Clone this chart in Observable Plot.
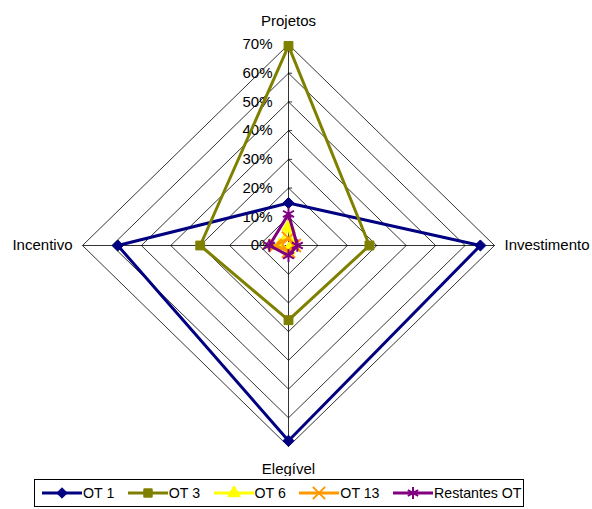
<!DOCTYPE html>
<html>
<head>
<meta charset="utf-8">
<script src="https://cdn.jsdelivr.net/npm/d3@7"></script>
<script src="https://cdn.jsdelivr.net/npm/@observablehq/plot@0.6"></script>
<style>
  body { margin: 0; background: #fff; font-family: "Liberation Sans", Arial, sans-serif; }
  #chart svg { display: block; }
  .legend { position: relative; margin-left: 34px; margin-top: 3px; width: 490px; height: 28px;
            border: 1px solid #000; display: flex; align-items: center; padding-left: 7px; box-sizing: border-box;
            font-size: 14.2px; color: #000; white-space: nowrap; }
  .legend .item { display: flex; align-items: center; margin-right: 13.5px; flex-shrink: 0; }
  .legend svg { display: block; margin-right: 1px; flex-shrink: 0; }
</style>
</head>
<body>
<div id="chart"></div>
<script>
// Radar axes, clockwise from the top
const categories = ["Projetos", "Investimento", "Elegível", "Incentivo"];

// Value axis: grid levels and their labels
const levels = [0, 0.1, 0.2, 0.3, 0.4, 0.5, 0.6, 0.7];
const tickLabels = ["0%", "10%", "20%", "30%", "40%", "50%", "60%", "70%"];

// Series (share per axis, in the order of categories)
const seriesNames = ["OT 1", "OT 3", "OT 6", "OT 13", "Restantes OT"];
const ot1 = [0.148, 0.652, 0.68, 0.58];
const ot3 = [0.695, 0.275, 0.26, 0.30];
const ot6 = [0.065, 0.015, 0.015, 0.03];
const ot13 = [0.025, 0.02, 0.02, 0.045];
const restantes = [0.11, 0.03, 0.035, 0.065];
const seriesValues = [ot1, ot3, ot6, ot13, restantes];

const colors = ["#000080", "#808000", "#FFFF00", "#FF9900", "#800080"];
const symbols = ["diamond2", "square", "triangle", "times", "asterisk"];
const d3Symbols = [d3.symbolDiamond2, d3.symbolSquare, d3.symbolTriangle, d3.symbolTimes, d3.symbolAsterisk];

// Unit direction of each radar axis
const dirs = {"Projetos": [0, 1], "Investimento": [1, 0], "Elegível": [0, -1], "Incentivo": [-1, 0]};
const polar = (cat, v) => ({x: v * dirs[cat][0], y: v * dirs[cat][1]});

// Concentric diamond grid
const grid = levels.filter(l => l > 0).flatMap(l =>
  [...categories, categories[0]].map(c => ({level: l, ...polar(c, l)})));

// Spokes
const spokes = categories.map(c => ({x1: 0, y1: 0, x2: polar(c, 0.7).x, y2: polar(c, 0.7).y}));

// Series points (closed polygons)
const points = seriesNames.flatMap((name, s) =>
  [...categories, categories[0]].map(c => ({series: name, cat: c, ...polar(c, seriesValues[s][categories.indexOf(c)])})));
const markers = seriesNames.flatMap((name, s) =>
  categories.map((c, i) => ({series: name, ...polar(c, seriesValues[s][i])})));

const labelOpts = {
  "Projetos": {dy: -23, textAnchor: "middle"},
  "Investimento": {dx: 10, textAnchor: "start"},
  "Elegível": {dy: 23, textAnchor: "middle"},
  "Incentivo": {dx: -10, textAnchor: "end"}
};

const isOpen = s => s === 3 || s === 4;
const maxR = 0.7;
const plot = Plot.plot({
  width: 592,
  height: 476,
  x: {domain: [-maxR, maxR], range: [82, 494], axis: null},
  y: {domain: [-maxR, maxR], range: [446, 44], axis: null},
  style: {fontFamily: "'Liberation Sans', Arial, sans-serif", fontSize: "15px", background: "#fff"},
  marks: [
    Plot.line(grid, {x: "x", y: "y", z: "level", stroke: "#000", strokeWidth: 0.8}),
    Plot.link(spokes, {x1: "x1", y1: "y1", x2: "x2", y2: "y2", stroke: "#000", strokeWidth: 0.8}),
    Plot.ruleY(levels, {y: d => d, x1: 0, x2: 0.014, stroke: "#000", strokeWidth: 0.8}),
    Plot.text(levels, {x: 0, y: d => d, text: (d, i) => tickLabels[i], textAnchor: "end", dx: -16, fill: "#000", fontSize: 15}),
    ...categories.map(c => Plot.text([c], {
      x: polar(c, maxR).x, y: polar(c, maxR).y, text: d => d, fill: "#000", fontSize: 15, ...labelOpts[c]
    })),
    ...seriesNames.map((name, s) => [
      Plot.line(points.filter(d => d.series === name), {x: "x", y: "y", stroke: colors[s], strokeWidth: 3, curve: "linear"}),
      Plot.dot(markers.filter(d => d.series === name), {
        x: "x", y: "y", symbol: () => symbols[s], r: isOpen(s) ? 6 : 5,
        fill: isOpen(s) ? "none" : colors[s],
        stroke: colors[s], strokeWidth: isOpen(s) ? 2 : 1
      })
    ])
  ]
});
document.getElementById("chart").appendChild(plot);

// Legend below the chart
const legend = d3.select("body").append("div").attr("class", "legend");
seriesNames.forEach((name, s) => {
  const item = legend.append("div").attr("class", "item");
  const sw = item.append("svg").attr("width", 40).attr("height", 14);
  sw.append("line").attr("x1", 0).attr("x2", 40).attr("y1", 7).attr("y2", 7)
    .attr("stroke", colors[s]).attr("stroke-width", 3);
  sw.append("path").attr("transform", "translate(20,7)")
    .attr("d", d3.symbol(d3Symbols[s], isOpen(s) ? 100 : 70)())
    .attr("fill", isOpen(s) ? "none" : colors[s])
    .attr("stroke", colors[s]).attr("stroke-width", isOpen(s) ? 2 : 1);
  item.append("span").text(name);
});
</script>
</body>
</html>
